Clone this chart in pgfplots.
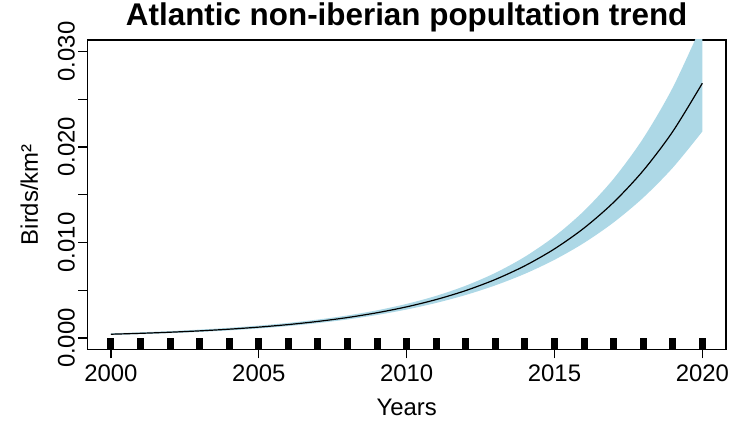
\documentclass[border=0pt]{standalone}
\usepackage{fontspec}
\setmainfont{Liberation Sans}
\usepackage{pgfplots}
\pgfplotsset{compat=1.18}
\usepgfplotslibrary{fillbetween}
\definecolor{ciblue}{HTML}{ADD8E6}

\pgfplotstableread{
year  mid       up        lo
2000  0.000400  0.000493  0.000324
2001  0.000493  0.000598  0.000406
2002  0.000609  0.000727  0.000510
2003  0.000751  0.000882  0.000640
2004  0.000927  0.001072  0.000802
2005  0.001143  0.001303  0.001003
2006  0.001410  0.001586  0.001253
2007  0.001740  0.001936  0.001564
2008  0.002146  0.002366  0.001946
2009  0.002648  0.002903  0.002415
2010  0.003266  0.003574  0.002985
2011  0.004030  0.004418  0.003676
2012  0.004971  0.005481  0.004508
2013  0.006133  0.006822  0.005514
2014  0.007566  0.008511  0.006726
2015  0.009334  0.010638  0.008190
2016  0.011516  0.013315  0.009960
2017  0.014207  0.016679  0.012102
2018  0.017526  0.020908  0.014690
2019  0.021622  0.026225  0.017827
2020  0.026675  0.032909  0.021623
}\trend

\pgfplotstableread{
year  y
2000  -0.0013
2001  -0.0013
2002  -0.0013
2003  -0.0013
2004  -0.0013
2005  -0.0013
2006  -0.0013
2007  -0.0013
2008  -0.0013
2009  -0.0013
2010  -0.0013
2011  -0.0013
2012  -0.0013
2013  -0.0013
2014  -0.0013
2015  -0.0013
2016  -0.0013
2017  -0.0013
2018  -0.0013
2019  -0.0013
2020  -0.0013
}\rug

\begin{document}
\begin{tikzpicture}
\begin{axis}[
  scale only axis,
  width=638.7bp, height=309.5bp,
  xmin=1999.2, xmax=2020.8,
  ymin=-0.0012, ymax=0.0312,
  scaled y ticks=false,
  axis line style={line width=1.1bp},
  xtick={2000,2005,2010,2015,2020},
  xticklabels={2000,2005,2010,2015,2020},
  ytick={0,0.005,0.01,0.015,0.02,0.025,0.03},
  yticklabels={0.000,,0.010,,0.020,,0.030},
  xtick pos=bottom, ytick pos=left,
  tick align=outside,
  major tick length=9bp,
  tick style={black, line width=1.1bp},
  tick label style={font=\fontsize{24}{28}\selectfont},
  xticklabel style={yshift=-3bp},
  yticklabel style={rotate=90, anchor=south},
  label style={font=\fontsize{24}{28}\selectfont},
  title={Atlantic non-iberian popultation trend},
  title style={font=\bfseries\fontsize{31.5}{36}\selectfont, at={(axis description cs:0.5,1.029)}, anchor=base},
  xlabel={Years},
  xlabel style={at={(axis description cs:0.5,-0.213)}, anchor=base},
  ylabel={Birds/km²},
  ylabel style={at={(axis description cs:-0.0772,0.5)}, anchor=base},
  clip=true,
]
\addplot[name path=up, draw=none, smooth, forget plot] table[x=year, y=up] {\trend};
\addplot[name path=lo, draw=none, smooth, forget plot] table[x=year, y=lo] {\trend};
\addplot[ciblue, draw=none] fill between[of=up and lo];
\addplot[black, line width=1.2bp, smooth] table[x=year, y=mid] {\trend};
\addplot[black, ycomb, line width=7bp, mark=none] table[x=year, y=y] {\rug};
\coordinate (bl) at (rel axis cs:0,0);
\coordinate (tr) at (rel axis cs:1,1);
\end{axis}
\pgfresetboundingbox
\path[use as bounding box] ([shift={(-87.3bp,-75.5bp)}]bl) rectangle ([shift={(12bp,40bp)}]tr);
\end{tikzpicture}
\end{document}
